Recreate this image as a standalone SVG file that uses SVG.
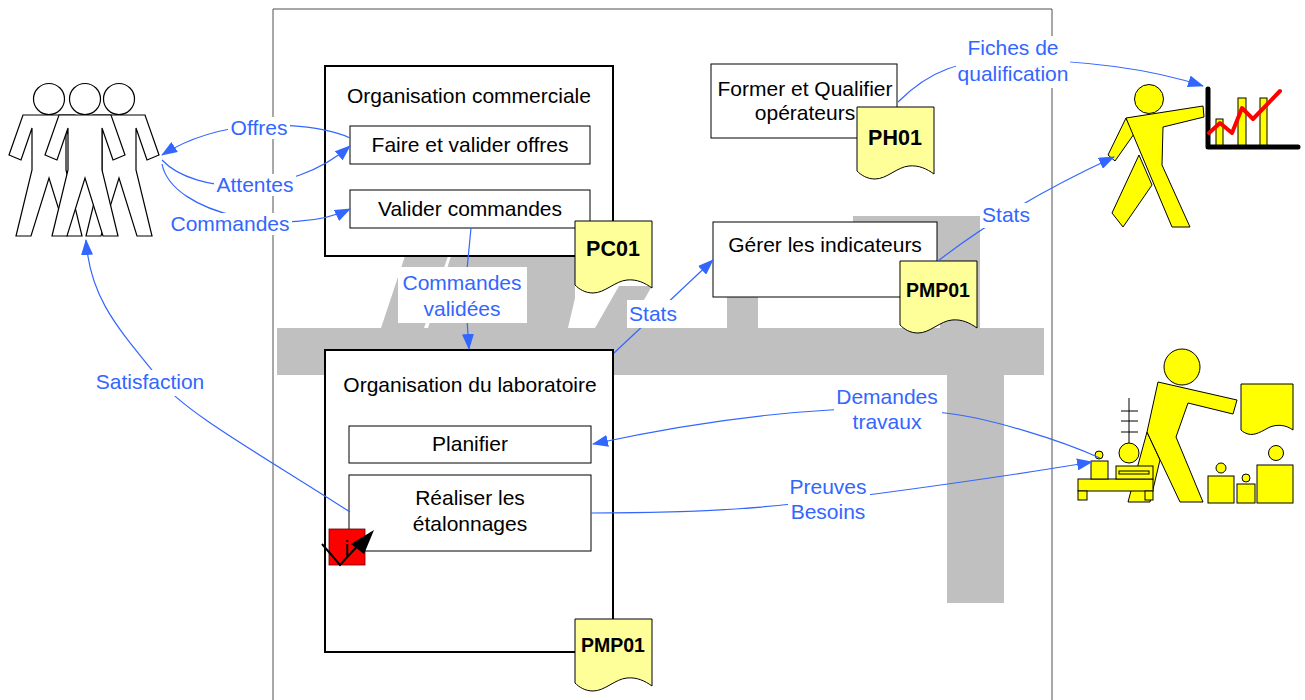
<svg xmlns="http://www.w3.org/2000/svg" width="1305" height="700" viewBox="0 0 1305 700">
  <style>
    .t { font-family: "Liberation Sans", Arial, sans-serif; font-size: 21px; fill: #000; text-anchor: middle; }
    .lbl { font-family: "Liberation Sans", Arial, sans-serif; font-size: 21px; fill: #3366ff; text-anchor: middle; }
    .docT { font-family: "Liberation Sans", Arial, sans-serif; font-weight: bold; fill: #000; text-anchor: middle; }
    .box { fill: #fff; stroke: #000; stroke-width: 1; }
    .bigbox { fill: #fff; stroke: #000; stroke-width: 2; }
    .doc { fill: #ffff99; stroke: #000; stroke-width: 1; }
    .conn { fill: none; stroke: #3366ff; stroke-width: 1.2; }
    .bg { fill: #fff; }
    .ppl { fill: #fff; stroke: #000; stroke-width: 1.2; }
    .yel { fill: #ffff00; stroke: #000; stroke-width: 1; }
  </style>
  <defs>
    <marker id="arr" markerWidth="16" markerHeight="12" refX="15" refY="6" orient="auto" markerUnits="userSpaceOnUse">
      <path d="M0,0 L16,6 L0,12 z" fill="#3366ff"/>
    </marker>
    <!-- document shape with wavy bottom, 77 wide -->
    <path id="docShape" d="M0,0 H77 V67 C70,62 62,58 52,59 C40,60 30,72 18,72 C10,72 4,68 0,64 Z"/>
    <!-- standing person outline, centred on x=0 -->
    <g id="person">
      <path d="M-26,115 L26,115 L40,155 L28,160 L17,128 L17,170 L33,236 L18,236 L0,178 L-18,236 L-33,236 L-17,170 L-17,128 L-28,160 L-40,155 Z"/>
      <circle cx="0" cy="99" r="15.5"/>
    </g>
  </defs>

  <rect width="1305" height="700" fill="#fff"/>

  <!-- large grey lettering in the background -->
  <g id="background-letters" fill="#c0c0c0">
    <rect x="277" y="328" width="767" height="47"/>
    <rect x="947" y="375" width="57" height="228"/>
    <polygon points="381,328 405,256 448,256 424,328"/>
    <polygon points="451,256 575,256 575,298 568,328 428,328"/>
    <polygon points="595,328 628,328 652,286 619,286"/>
    <rect x="853" y="216" width="127" height="46"/>
    <rect x="940" y="216" width="40" height="112"/>
    <rect x="727" y="280" width="31" height="48"/>
  </g>

  <!-- company frame -->
  <path d="M273,705 V9 H1052 V705" fill="none" stroke="#505050" stroke-width="1"/>

  <!-- customers -->
  <g id="customers" class="ppl">
    <use href="#person" transform="translate(49,0)"/>
    <use href="#person" transform="translate(119,0)"/>
    <use href="#person" transform="translate(85,0)"/>
  </g>

  <g id="org-commerciale">
    <rect class="bigbox" x="325" y="66" width="288" height="190"/>
    <text class="t" x="469" y="103">Organisation commerciale</text>
  </g>
  <g id="faire-offres">
    <rect class="box" x="350" y="126" width="240" height="38"/>
    <text class="t" x="470" y="152">Faire et valider offres</text>
  </g>
  <g id="valider-commandes">
    <rect class="box" x="350" y="190" width="240" height="38"/>
    <text class="t" x="470" y="216">Valider commandes</text>
  </g>
  <g id="pc01">
    <use href="#docShape" class="doc" transform="translate(575,221)"/>
    <text class="docT" x="613" y="256" font-size="21.5">PC01</text>
  </g>

  <g id="former-qualifier">
    <rect class="box" x="711" y="64" width="186" height="74"/>
    <text class="t" x="805" y="96">Former et Qualifier</text>
    <text class="t" x="805" y="120">opérateurs</text>
  </g>
  <g id="ph01">
    <use href="#docShape" class="doc" transform="translate(857,107)"/>
    <text class="docT" x="895" y="145" font-size="21.5">PH01</text>
  </g>

  <g id="gerer-indicateurs">
    <rect class="box" x="713" y="222" width="224" height="75"/>
    <text class="t" x="825" y="252">Gérer les indicateurs</text>
  </g>
  <g id="pmp01-a">
    <use href="#docShape" class="doc" transform="translate(900,261)"/>
    <text class="docT" x="938" y="297" font-size="19.5">PMP01</text>
  </g>

  <g id="org-laboratoire">
    <rect class="bigbox" x="325" y="350" width="288" height="302"/>
    <text class="t" x="470" y="392">Organisation du laboratoire</text>
  </g>
  <g id="planifier">
    <rect class="box" x="349" y="426" width="242" height="37"/>
    <text class="t" x="470" y="451">Planifier</text>
  </g>
  <g id="realiser">
    <rect class="box" x="349" y="475" width="242" height="76"/>
    <text class="t" x="470" y="505">Réaliser les</text>
    <text class="t" x="470" y="531">étalonnages</text>
  </g>
  <g id="info-icon">
    <rect x="329" y="529" width="36" height="36" fill="#ff0000" stroke="#600" stroke-width="0.8"/>
    <text x="347" y="556" font-family="Liberation Sans, Arial, sans-serif" font-size="22" text-anchor="middle" fill="#000">i</text>
    <polyline points="322,544 340,565 362,541" fill="none" stroke="#000" stroke-width="2"/>
    <polygon points="374,530 351,544 364,554" fill="#000"/>
  </g>
  <g id="pmp01-b">
    <use href="#docShape" class="doc" transform="translate(575,619)"/>
    <text class="docT" x="613" y="652" font-size="19.5">PMP01</text>
  </g>

  <!-- manager pointing at a chart -->
  <g id="manager">
    <polygon class="yel" points="1139,155 1152,185 1123,227 1112,213"/>
    <polygon class="yel" points="1126,118 1108,155 1115,161 1134,134"/>
    <polygon class="yel" points="1126,118 1203,106 1204,117 1163,127 1162,165 1190,227 1172,227"/>
    <circle class="yel" cx="1149" cy="99" r="14.5"/>
    <rect class="yel" x="1216" y="119" width="7" height="28"/>
    <rect class="yel" x="1238" y="98" width="8" height="49"/>
    <rect class="yel" x="1260" y="98" width="7" height="49"/>
    <polyline points="1208,89 1208,147 1298,147" fill="none" stroke="#000" stroke-width="5" stroke-linecap="round" stroke-linejoin="round"/>
    <polyline points="1209,133 1220,123 1232,133 1242,108 1253,119 1280,91" fill="none" stroke="#ff0000" stroke-width="4" stroke-linecap="round" stroke-linejoin="round"/>
  </g>

  <!-- laboratory technician and instruments -->
  <g id="laboratory">
    <polygon class="yel" points="1147,432 1160,460 1150,502 1128,502 1138,465"/>
    <polygon class="yel" points="1158,382 1237,400 1233,414 1188,403 1176,437 1203,502 1180,502 1147,432"/>
    <circle class="yel" cx="1182" cy="367" r="18"/>
    <path class="yel" d="M1241,384 H1293 V430 C1286,425 1278,424 1270,427 C1262,431 1255,436 1248,434 C1245,433 1243,432 1241,430 Z"/>
    <line x1="1129" y1="398" x2="1129" y2="443" stroke="#000" stroke-width="1"/>
    <line x1="1121" y1="411" x2="1138" y2="411" stroke="#000" stroke-width="1"/>
    <line x1="1121" y1="421" x2="1138" y2="421" stroke="#000" stroke-width="1"/>
    <line x1="1121" y1="432" x2="1138" y2="432" stroke="#000" stroke-width="1"/>
    <circle class="yel" cx="1129" cy="453" r="10"/>
    <rect class="yel" x="1078" y="479" width="75" height="12"/>
    <rect class="yel" x="1078" y="491" width="9" height="9"/>
    <rect class="yel" x="1145" y="491" width="8" height="9"/>
    <rect class="yel" x="1091" y="461" width="17" height="18"/>
    <circle class="yel" cx="1099" cy="455" r="4"/>
    <rect class="yel" x="1116" y="466" width="37" height="13"/>
    <rect class="yel" x="1119" y="471" width="30" height="3"/>
    <rect class="yel" x="1208" y="476" width="26" height="27"/>
    <circle class="yel" cx="1221" cy="468" r="5"/>
    <rect class="yel" x="1237" y="484" width="18" height="19"/>
    <circle class="yel" cx="1246" cy="478" r="4"/>
    <rect class="yel" x="1257" y="465" width="36" height="38"/>
    <circle class="yel" cx="1276" cy="453" r="7.5"/>
  </g>

  <!-- flows -->
  <g id="connectors" class="conn">
    <path d="M350,138 C320,124 230,112 162,155" marker-end="url(#arr)"/>
    <path d="M162,160 C195,195 290,198 350,146" marker-end="url(#arr)"/>
    <path d="M162,164 C172,215 290,238 350,209" marker-end="url(#arr)"/>
    <path d="M471,228 L465,290 L469,349" marker-end="url(#arr)"/>
    <path d="M614,353 L713,260" marker-end="url(#arr)"/>
    <path d="M938,261 Q1010,205 1114,157" marker-end="url(#arr)"/>
    <path d="M898,102 C930,70 960,60 1010,60 C1100,60 1160,72 1203,86" marker-end="url(#arr)"/>
    <path d="M350,512 C270,460 180,410 160,380 C120,330 90,300 86,240" marker-end="url(#arr)"/>
    <path d="M1100,458 C1060,440 990,418 945,413 C900,408 860,408 830,410 C760,414 680,425 593,444" marker-end="url(#arr)"/>
    <path d="M591,513 C700,513 760,508 800,503 C830,499 850,497 875,494 C950,484 1020,474 1092,462" marker-end="url(#arr)"/>
  </g>

  <!-- flow labels -->
  <g id="labels">
    <rect class="bg" x="228" y="117" width="62" height="22"/>
    <text class="lbl" x="259" y="135">Offres</text>
    <rect class="bg" x="214" y="174" width="82" height="22"/>
    <text class="lbl" x="255" y="192">Attentes</text>
    <rect class="bg" x="168" y="213" width="124" height="22"/>
    <text class="lbl" x="230" y="231">Commandes</text>
    <rect class="bg" x="398" y="267" width="129" height="56"/>
    <text class="lbl" x="462" y="290">Commandes</text>
    <text class="lbl" x="462" y="316">validées</text>
    <rect class="bg" x="627" y="300" width="55" height="28"/>
    <text class="lbl" x="653" y="321">Stats</text>
    <rect class="bg" x="980" y="203" width="52" height="25"/>
    <text class="lbl" x="1006" y="222">Stats</text>
    <rect class="bg" x="956" y="36" width="114" height="52"/>
    <text class="lbl" x="1013" y="55">Fiches de</text>
    <text class="lbl" x="1013" y="81">qualification</text>
    <rect class="bg" x="94" y="370" width="113" height="26"/>
    <text class="lbl" x="150" y="389">Satisfaction</text>
    <rect class="bg" x="834" y="385" width="108" height="50"/>
    <text class="lbl" x="887" y="404">Demandes</text>
    <text class="lbl" x="887" y="429">travaux</text>
    <rect class="bg" x="788" y="475" width="82" height="50"/>
    <text class="lbl" x="828" y="494">Preuves</text>
    <text class="lbl" x="828" y="519">Besoins</text>
  </g>
</svg>
